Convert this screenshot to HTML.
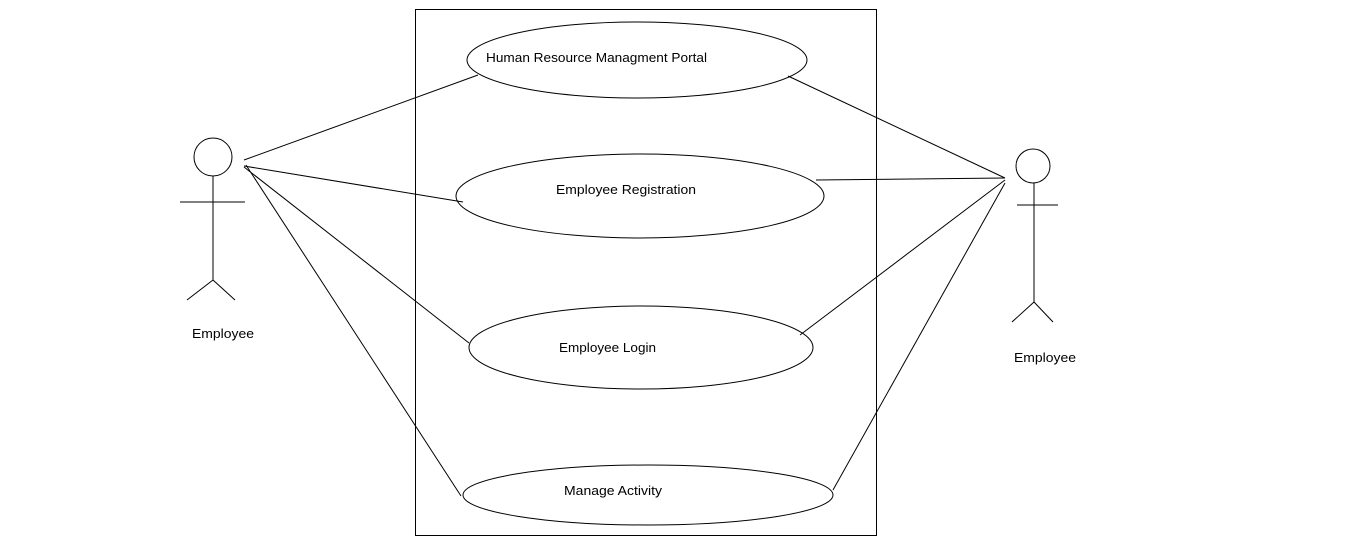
<!DOCTYPE html>
<html><head><meta charset="utf-8"><style>html,body{margin:0;padding:0;background:#fff;}svg{display:block}</style></head>
<body>
<svg width="1360" height="560" viewBox="0 0 1360 560" xmlns="http://www.w3.org/2000/svg" font-family="Liberation Sans, sans-serif" font-size="13" fill="none" stroke="#000" stroke-width="1">
<rect x="415.5" y="9.5" width="461" height="526"/>
<ellipse cx="637" cy="60" rx="170" ry="38"/>
<ellipse cx="640" cy="196" rx="184" ry="42"/>
<ellipse cx="641" cy="347.5" rx="172" ry="41.5"/>
<ellipse cx="648" cy="495" rx="185" ry="30"/>
<!-- left actor -->
<circle cx="213" cy="157" r="19"/>
<line x1="213" y1="176" x2="213" y2="280"/>
<line x1="180" y1="202" x2="245" y2="202"/>
<line x1="213" y1="280" x2="187" y2="300"/>
<line x1="213" y1="280" x2="235" y2="300"/>
<!-- right actor -->
<circle cx="1033" cy="166" r="17"/>
<line x1="1034" y1="183" x2="1034" y2="302"/>
<line x1="1017" y1="205" x2="1058" y2="205"/>
<line x1="1034" y1="302" x2="1012" y2="322"/>
<line x1="1034" y1="302" x2="1053" y2="322"/>
<!-- connectors -->
<line x1="244" y1="160" x2="478" y2="75"/>
<line x1="244" y1="166" x2="463" y2="202"/>
<line x1="244" y1="167" x2="469" y2="343"/>
<line x1="246" y1="165" x2="461" y2="496"/>
<line x1="788" y1="76" x2="1005" y2="178"/>
<line x1="816" y1="180" x2="1005" y2="178"/>
<line x1="800" y1="335" x2="1005" y2="180"/>
<line x1="833" y1="490" x2="1005" y2="183"/>
<g fill="#000" stroke="none">
<text x="486" y="62" textLength="221" lengthAdjust="spacingAndGlyphs">Human Resource Managment Portal</text>
<text x="556" y="194" textLength="140" lengthAdjust="spacingAndGlyphs">Employee Registration</text>
<text x="559" y="352" textLength="97" lengthAdjust="spacingAndGlyphs">Employee Login</text>
<text x="564" y="495" textLength="98" lengthAdjust="spacingAndGlyphs">Manage Activity</text>
<text x="192" y="338" textLength="62" lengthAdjust="spacingAndGlyphs">Employee</text>
<text x="1014" y="362" textLength="62" lengthAdjust="spacingAndGlyphs">Employee</text>
</g>
</svg>
</body></html>
